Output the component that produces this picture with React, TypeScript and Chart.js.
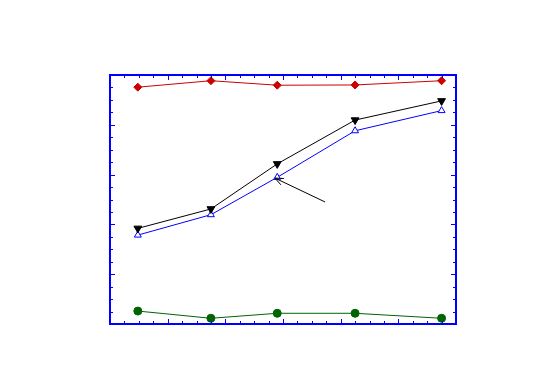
import React, { useEffect, useRef } from "react";
import { Chart, registerables } from "chart.js";

Chart.register(...registerables);

const xValues = [1.93, 7.0, 11.6, 17.0, 23.0];
const redSeries = [95.1, 97.7, 95.9, 96.0, 97.7];
const blackSeries = [38.4, 46.2, 64.3, 81.9, 89.6];
const blueSeries = [35.7, 43.9, 58.9, 77.6, 85.7];
const greenSeries = [5.2, 2.3, 4.3, 4.3, 2.3];

const xRange = [0, 24];
const yRange = [0, 100];
const arrowFrom = [14.92, 49.0];
const arrowTo = [11.44, 58.6];

const toPts = (ys: number[]) => ys.map((y, i) => ({ x: xValues[i], y }));

const framePlugin = {
  id: "frameTicks",
  afterDatasetsDraw(chart: any) {
    const { ctx, chartArea, scales } = chart;
    const { left, right, top, bottom } = chartArea;
    const xs = scales.x;
    const ys = scales.y;
    ctx.save();
    ctx.strokeStyle = "#0000ff";
    ctx.lineWidth = 1;
    for (let v = xRange[0]; v <= xRange[1]; v += 1) {
      const px = Math.round(xs.getPixelForValue(v)) + 0.5;
      const len = v % 4 === 0 ? 5 : 3;
      ctx.beginPath();
      ctx.moveTo(px, bottom);
      ctx.lineTo(px, bottom - len);
      ctx.moveTo(px, top);
      ctx.lineTo(px, top + len);
      ctx.stroke();
    }
    for (let v = yRange[0]; v <= yRange[1]; v += 5) {
      const py = Math.round(ys.getPixelForValue(v)) + 0.5;
      const len = v % 20 === 0 ? 5 : 3;
      ctx.beginPath();
      ctx.moveTo(left, py);
      ctx.lineTo(left + len, py);
      ctx.moveTo(right, py);
      ctx.lineTo(right - len, py);
      ctx.stroke();
    }
    ctx.lineWidth = 2;
    ctx.strokeRect(left, top, right - left, bottom - top);

    const x1 = xs.getPixelForValue(arrowFrom[0]);
    const y1 = ys.getPixelForValue(arrowFrom[1]);
    const x2 = xs.getPixelForValue(arrowTo[0]);
    const y2 = ys.getPixelForValue(arrowTo[1]);
    ctx.strokeStyle = "#000000";
    ctx.lineWidth = 1;
    ctx.beginPath();
    ctx.moveTo(x1, y1);
    ctx.lineTo(x2, y2);
    const ang = Math.atan2(y1 - y2, x1 - x2);
    const hl = 9;
    const spread = 0.4;
    ctx.moveTo(x2 + hl * Math.cos(ang + spread), y2 + hl * Math.sin(ang + spread));
    ctx.lineTo(x2, y2);
    ctx.lineTo(x2 + hl * Math.cos(ang - spread), y2 + hl * Math.sin(ang - spread));
    ctx.stroke();
    ctx.restore();
  },
};

export default function App() {
  const ref = useRef<HTMLCanvasElement | null>(null);
  useEffect(() => {
    if (!ref.current) return;
    const chart = new Chart(ref.current, {
      type: "line",
      data: {
        datasets: [
          {
            data: toPts(redSeries),
            borderColor: "#cc0000",
            backgroundColor: "#cc0000",
            borderWidth: 1,
            pointStyle: "rectRot",
            pointRadius: 4,
            pointBorderWidth: 1,
          },
          {
            data: toPts(blackSeries),
            borderColor: "#000000",
            backgroundColor: "#000000",
            borderWidth: 1,
            pointStyle: "triangle",
            pointRotation: 180,
            pointRadius: 4.5,
            pointBorderWidth: 1,
          },
          {
            data: toPts(blueSeries),
            borderColor: "#0000ff",
            backgroundColor: "#ffffff",
            borderWidth: 1,
            pointStyle: "triangle",
            pointRadius: 4,
            pointBorderWidth: 1,
          },
          {
            data: toPts(greenSeries),
            borderColor: "#006400",
            backgroundColor: "#006400",
            borderWidth: 1,
            pointStyle: "circle",
            pointRadius: 4,
            pointBorderWidth: 1,
          },
        ],
      },
      options: {
        animation: false,
        responsive: false,
        maintainAspectRatio: false,
        layout: { padding: { left: 110, right: 89, top: 75, bottom: 49 } },
        plugins: { legend: { display: false }, tooltip: { enabled: false } },
        elements: { line: { tension: 0 } },
        scales: {
          x: { type: "linear", min: xRange[0], max: xRange[1], display: false },
          y: { type: "linear", min: yRange[0], max: yRange[1], display: false },
        },
      },
      plugins: [framePlugin],
    });
    return () => chart.destroy();
  }, []);
  return (
    <div style={{ position: "absolute", left: 0, top: 0, width: 545, height: 373, background: "#fff" }}>
      <canvas ref={ref} width={545} height={373} style={{ width: 545, height: 373 }} />
    </div>
  );
}
